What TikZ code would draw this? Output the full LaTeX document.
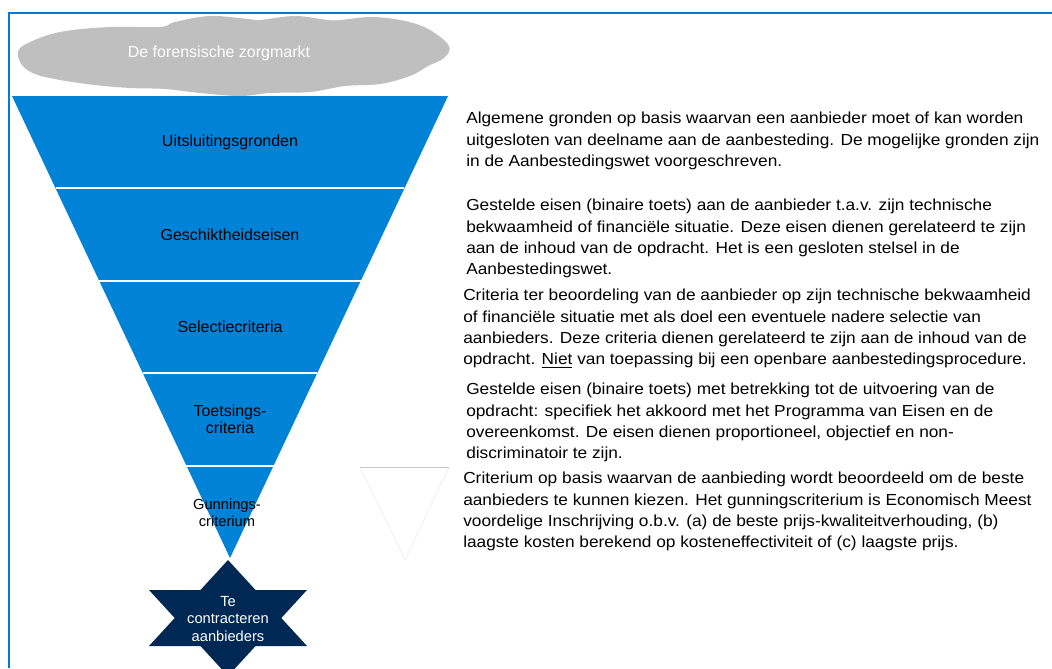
\documentclass[tikz,border=0pt]{standalone}
\usepackage{fontspec}
\setmainfont{Liberation Sans}
\newfontfamily\descfont[FakeStretch=1.08]{Liberation Sans}
\usetikzlibrary{calc}
\definecolor{funnelblue}{RGB}{0,130,214}
\definecolor{frameblue}{RGB}{0,122,212}
\definecolor{navy}{RGB}{0,40,85}
\definecolor{cloudgray}{RGB}{191,191,191}
\begin{document}
\begin{tikzpicture}
  [x=0.75pt,y=-0.75pt,
   band/.style={text=black,align=center,font=\fontsize{12}{13}\selectfont},
   desc/.style={anchor=north west,inner sep=0pt,align=left,font=\descfont\fontsize{12}{16}\selectfont}]
  \useasboundingbox (0,0) rectangle (1052,668);
  \draw[frameblue, line width=1.5pt] (9,668) -- (9,13) -- (1052,13);

  \fill[cloudgray] plot[smooth cycle, tension=0.6] coordinates {
    (18,52) (28,43) (60,32) (110,27) (160,27) (175,22) (210,16) (248,19) (260,20)
    (295,16) (328,20) (340,20) (372,17) (405,21) (430,30) (449,46) (444,58) (428,66)
    (410,76) (380,84) (345,86) (310,92) (270,93) (240,96) (200,93) (165,89) (130,88)
    (95,85) (60,80) (35,74) (22,65)};
  \node[text=white, font=\fontsize{12}{13}\selectfont] (markt) at (219,53) {De forensische zorgmarkt};

  \coordinate (tl) at (12,96);
  \coordinate (tr) at (448,96);
  \coordinate (ap) at (230,558);
  \fill[funnelblue] (tl) -- (tr) -- (ap) -- cycle;
  \foreach \t in {0.2,0.4,0.6,0.8}
    \draw[white, line width=1.5pt] ($(tl)!\t!(ap)$) -- ($(tr)!\t!(ap)$);

  \node[band] (b1) at (230,142) {Uitsluitingsgronden};
  \node[band] (b2) at (230,235) {Geschiktheidseisen};
  \node[band] (b3) at (230,327) {Selectiecriteria};
  \node[band] (b4) at (230,419) {Toetsings-\\criteria};
  \node[band, font=\fontsize{11}{13}\selectfont] (b5) at (227,513) {Gunnings-\\criterium};

  \fill[navy] (228,560) -- (307,646) -- (149,646) -- cycle;
  \fill[navy] (149,590) -- (307,590) -- (228,676) -- cycle;
  \node[text=white, align=center, font=\fontsize{11}{13}\selectfont] (aanb) at (228,619) {Te\\contracteren\\aanbieders};

  \draw[gray!15, line width=0.5pt] (449,467) -- (405,560) -- (360,467);
  \draw[gray!45, line width=0.5pt] (360,467) -- (449,467);

  \node[desc] (d1) at (466,112) {Algemene gronden op basis waarvan een aanbieder moet of kan worden\\uitgesloten van deelname aan de aanbesteding. De mogelijke gronden zijn\\in de Aanbestedingswet voorgeschreven.};
  \node[desc] (d2) at (466,199) {Gestelde eisen (binaire toets) aan de aanbieder t.a.v. zijn technische\\bekwaamheid of financiële situatie. Deze eisen dienen gerelateerd te zijn\\aan de inhoud van de opdracht. Het is een gesloten stelsel in de\\Aanbestedingswet.};
  \node[desc] (d3) at (463,289) {Criteria ter beoordeling van de aanbieder op zijn technische bekwaamheid\\of financiële situatie met als doel een eventuele nadere selectie van\\aanbieders. Deze criteria dienen gerelateerd te zijn aan de inhoud van de\\opdracht. \underline{Niet} van toepassing bij een openbare aanbestedingsprocedure.};
  \node[desc] (d4) at (466,383) {Gestelde eisen (binaire toets) met betrekking tot de uitvoering van de\\opdracht: specifiek het akkoord met het Programma van Eisen en de\\overeenkomst. De eisen dienen proportioneel, objectief en non-\\discriminatoir te zijn.};
  \node[desc] (d5) at (463,472) {Criterium op basis waarvan de aanbieding wordt beoordeeld om de beste\\aanbieders te kunnen kiezen. Het gunningscriterium is Economisch Meest\\voordelige Inschrijving o.b.v. (a) de beste prijs-kwaliteitverhouding, (b)\\laagste kosten berekend op kosteneffectiviteit of (c) laagste prijs.};
\end{tikzpicture}
\end{document}
